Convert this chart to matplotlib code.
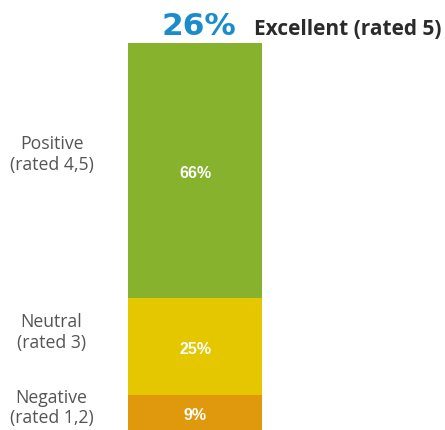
import matplotlib.pyplot as plt

# data
segments = ['Negative\n(rated 1,2)', 'Neutral\n(rated 3)', 'Positive\n(rated 4,5)']
values = [9, 25, 66]
colors = ['#e0990c', '#e5c700', '#87b22d']
excellent_pct = 26
excellent_label = 'Excellent (rated 5)'

fig = plt.figure(figsize=(4.45, 4.31), dpi=100)
# axes spans exactly the bar area
ax = fig.add_axes([128 / 445, 0, 134 / 445, 387 / 431])
ax.set_xlim(0, 1)
ax.set_ylim(0, 100)
ax.axis('off')

bottom = 0
for lab, v, c in zip(segments, values, colors):
    ax.bar(0, v, width=1, bottom=bottom, color=c, align='edge', edgecolor='none')
    ax.text(0.5, bottom + v / 2 - 0.4, f'{v}%', ha='center', va='center', color='white',
            fontsize=11.5, fontweight='bold', family='Liberation Sans')
    # side label sits a bit above segment centre
    ax.text(-0.57, bottom + v / 2 + min(v * 0.16, 4.5), lab, ha='center', va='center',
            color='#555555', fontsize=12.7, family='Open Sans', linespacing=1.2, clip_on=False)
    bottom += v

ax.text(0.25, 102.2, f'{excellent_pct}%', ha='left', va='baseline', color='#1a8ccb',
        fontsize=22.5, fontweight='bold', family='DejaVu Sans', clip_on=False)
ax.text(0.94, 102.2, excellent_label, ha='left', va='baseline', color='#2b2b2b',
        fontsize=15, fontweight='bold', family='Open Sans', clip_on=False)

fig.savefig('out.png', dpi=100)
